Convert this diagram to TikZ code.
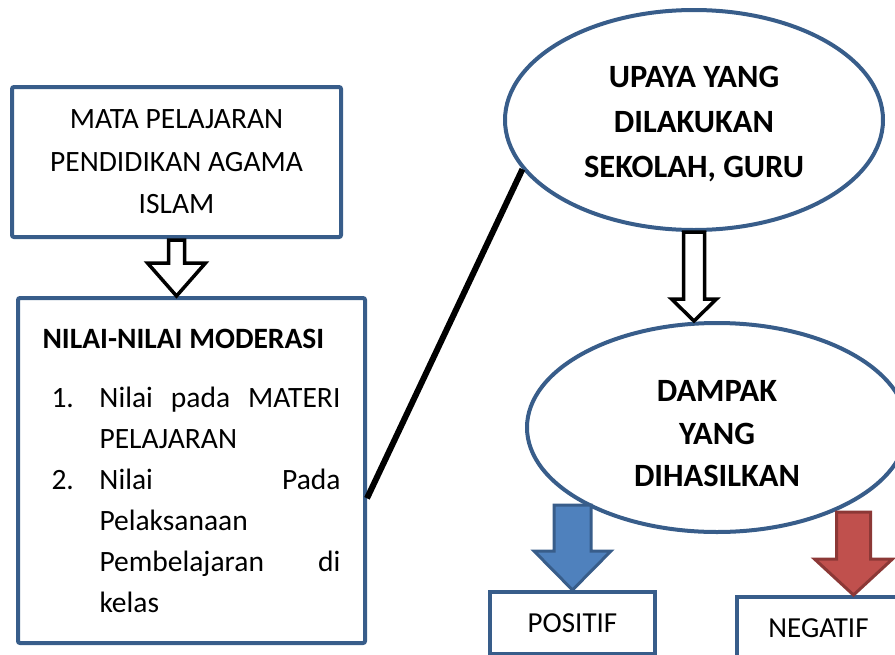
\documentclass[tikz,border=0pt]{standalone}
\usepackage{fontspec}
\setmainfont{Carlito}
\usetikzlibrary{shapes,arrows,positioning,calc}
\definecolor{frame}{RGB}{56,93,138}
\definecolor{positif}{RGB}{79,129,189}
\definecolor{positif_line}{RGB}{56,93,138}
\definecolor{negatif}{RGB}{192,80,77}
\definecolor{negatif_line}{RGB}{140,56,54}

\begin{document}
\begin{tikzpicture}[x=1pt, y=-1pt, auto]
    \useasboundingbox (0,0) rectangle (895,654);
    \clip (0,0) rectangle (895,654);

    \node[draw=frame, line width=4pt, rectangle, rounded corners=2pt, minimum width=329pt, minimum height=150pt, align=center, font=\fontsize{29.5}{42.5}\selectfont] (mapel) at (176.5,162) {MATA PELAJARAN\\PENDIDIKAN AGAMA\\ISLAM};
    \node[draw=frame, line width=4pt, rectangle, rounded corners=2pt, text width=298pt, inner xsep=24.5pt, minimum height=345pt, align=justify, font=\fontsize{29.5}{41}\selectfont] (nilai) at (191.5,470.5) {\textbf{NILAI-NILAI MODERASI}\\[18pt]
        \hspace*{9pt}\makebox[48pt][l]{1.}Nilai\hfill pada\hfill MATERI\\
        \hspace*{57pt}PELAJARAN\\
        \hspace*{9pt}\makebox[48pt][l]{2.}Nilai\hfill Pada\\
        \hspace*{57pt}Pelaksanaan\\
        \hspace*{57pt}Pembelajaran\hfill di\\
        \hspace*{57pt}kelas\par\vspace*{14pt}};
    \node[draw=frame, line width=4pt, ellipse, minimum width=378pt, minimum height=220pt, align=center, font=\bfseries\fontsize{32.5}{45}\selectfont] (upaya) at (694,120) {\rule{0pt}{30pt}UPAYA YANG\\DILAKUKAN\\SEKOLAH, GURU};
    \node[draw=frame, line width=4pt, ellipse, minimum width=380pt, minimum height=209pt, align=center, font=\bfseries\fontsize{32.5}{42.5}\selectfont] (dampak) at (717,427.5) {\rule{0pt}{34pt}DAMPAK\\YANG\\DIHASILKAN};
    \node[draw=frame, line width=4pt, rectangle, minimum width=165pt, minimum height=62pt, font=\fontsize{29}{30}\selectfont] (pos) at (572.5,623) {POSITIF};
    \node[draw=frame, line width=4pt, rectangle, minimum width=163pt, minimum height=62pt, font=\fontsize{29}{30}\selectfont] (neg) at (818.5,628) {NEGATIF};

    \draw[line width=6pt] (nilai.-9) -- (upaya.196);

    % hollow arrows
    \coordinate (t1) at (mapel.south |- nilai.north);
    \draw[line width=3.5pt, fill=white, line join=miter] ($(t1)+(-8,-56)$) -- ($(t1)+(-8,-33)$) -- ($(t1)+(-29,-33)$) -- (t1) -- ($(t1)+(29,-33)$) -- ($(t1)+(8,-33)$) -- ($(t1)+(8,-56)$) -- cycle;
    \coordinate (t2) at (upaya.south |- dampak.north);
    \draw[line width=3.5pt, fill=white, line join=miter] ($(t2)+(-10.5,-89)$) -- ($(t2)+(-10.5,-22)$) -- ($(t2)+(-22.5,-22)$) -- (t2) -- ($(t2)+(22.5,-22)$) -- ($(t2)+(10.5,-22)$) -- ($(t2)+(10.5,-89)$) -- cycle;

    % coloured arrows
    \coordinate (t3) at (pos.north);
    \draw[line width=3pt, fill=positif, draw=positif_line] ($(t3)+(-18.5,-85)$) -- ($(t3)+(-18.5,-39)$) -- ($(t3)+(-38.5,-39)$) -- (t3) -- ($(t3)+(38.5,-39)$) -- ($(t3)+(18.5,-39)$) -- ($(t3)+(18.5,-85)$) -- cycle;
    \coordinate (t4) at ($(neg.north)+(35,0)$);
    \draw[line width=3pt, fill=negatif, draw=negatif_line] ($(t4)+(-17,-83)$) -- ($(t4)+(-17,-36)$) -- ($(t4)+(-39,-36)$) -- (t4) -- ($(t4)+(39,-36)$) -- ($(t4)+(17,-36)$) -- ($(t4)+(17,-83)$) -- cycle;
\end{tikzpicture}
\end{document}
